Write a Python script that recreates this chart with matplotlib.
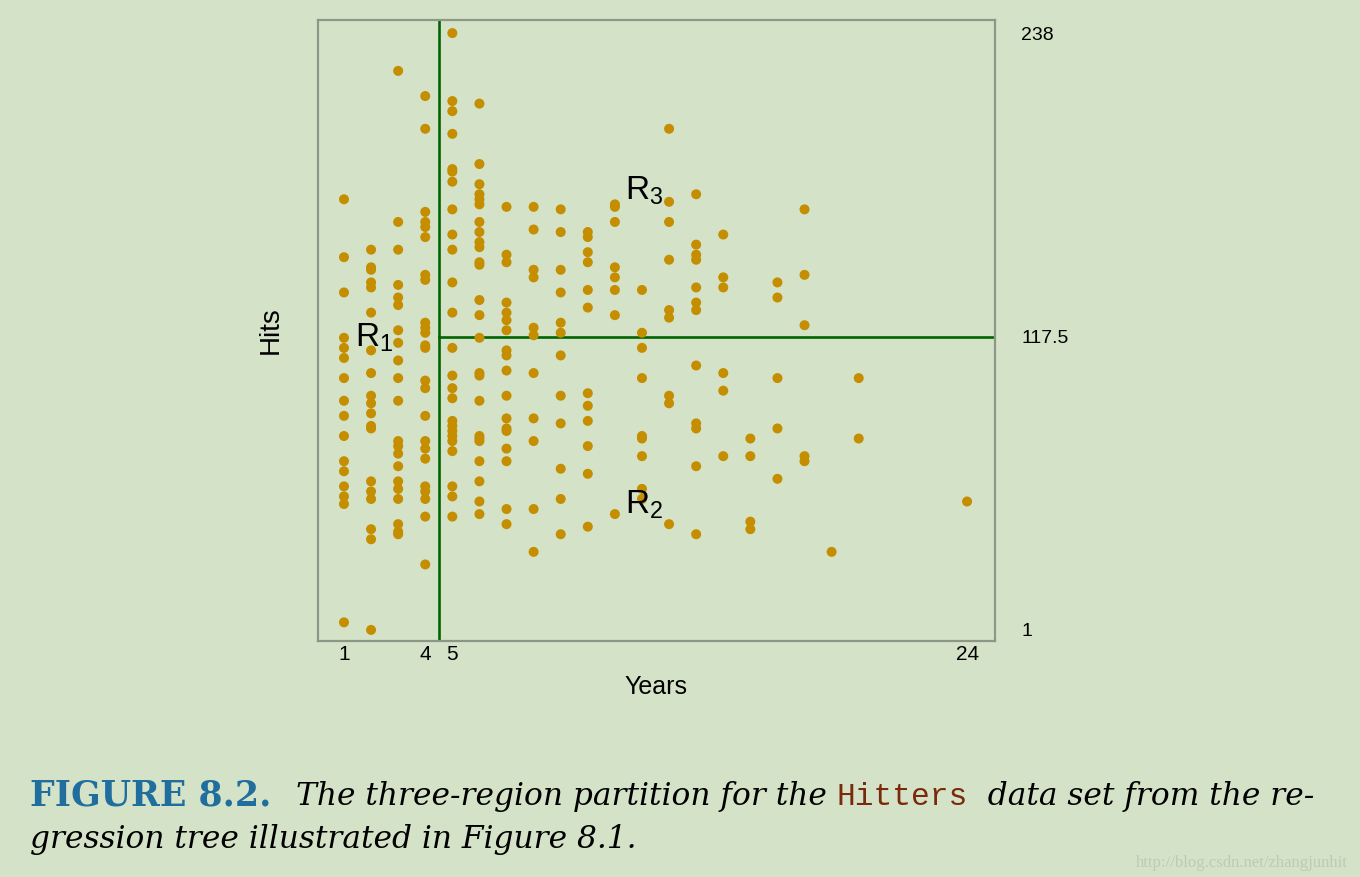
'''
Hitters: three-region partition of Years / Hits from the regression tree
'''

import numpy as np
import matplotlib.pyplot as plt

###############################################################################
## data
###############################################################################

years = [1, 2, 3, 4, 5, 6, 7, 8, 9, 10, 11, 12, 13, 14, 15, 16, 17, 18, 19, 20, 24]
hits = [
    [172, 149, 135, 117, 113, 109, 101, 92, 86, 78, 68, 64, 58, 54, 51, 4],
    [152, 145, 144, 139, 137, 127, 112, 103, 94, 91, 87, 82, 81, 60, 56, 53, 41, 37, 1],
    [223, 163, 152, 138, 133, 130, 120, 115, 108, 101, 92, 76, 74, 71, 66, 60, 57, 53, 43, 40, 39],
    [213, 200, 167, 163, 161, 157, 142, 140, 123, 121, 119, 114, 113, 100, 97, 86, 76, 73, 69,
     58, 56, 53, 46, 27],
    [238, 211, 207, 198, 184, 183, 179, 168, 158, 152, 139, 127, 113, 102, 97, 93, 84, 82, 80,
     78, 76, 72, 58, 54, 46],
    [210, 186, 178, 174, 172, 170, 163, 159, 155, 153, 147, 146, 132, 126, 117, 103, 102, 92,
     78, 77, 76, 68, 60, 52, 47],
    [169, 150, 147, 131, 127, 124, 120, 112, 110, 104, 94, 85, 81, 80, 73, 68, 49, 43],
    [169, 160, 144, 141, 121, 118, 103, 85, 76, 49, 32],
    [168, 159, 144, 135, 123, 119, 110, 94, 83, 65, 53, 39],
    [159, 157, 151, 147, 136, 129, 95, 90, 84, 74, 63, 42],
    [170, 169, 163, 145, 141, 136, 126, 47],
    [136, 119, 113, 101, 78, 77, 70, 57, 53],
    [200, 171, 163, 148, 128, 125, 94, 91, 43],
    [174, 154, 150, 148, 137, 131, 128, 106, 83, 81, 66, 39],
    [158, 141, 137, 103, 96, 70],
    [77, 70, 44, 41],
    [139, 133, 101, 81, 61],
    [168, 142, 122, 70, 68],
    [32],
    [101, 77],
    [52],
]

years_split = 4.5
hits_split = 117.5

xticks = [1, 4, 5, 24]
yticks = [1, 117.5, 238]
ytick_labels = ['1', '117.5', '238']

regions = ['$\\mathregular{R_1}$', '$\\mathregular{R_2}$', '$\\mathregular{R_3}$']
region_pos = [(1.4, 117), (11.37, 50.5), (11.37, 175.5)]

###############################################################################
## plot
###############################################################################

bg = '#D4E3C8'
sans = ['Liberation Sans', 'DejaVu Sans']

fig = plt.figure(figsize=(13.6, 8.77), dpi=100, facecolor=bg)
ax = fig.add_axes([0.2338, 0.2691, 0.4978, 0.7081], facecolor=bg)

x = np.concatenate([[yr] * len(h) for yr, h in zip(years, hits)])
y = np.concatenate(hits)
ax.scatter(x, y, s=52, color='#C48E00', edgecolors='none', zorder=3)

# partition lines
ax.axvline(years_split, color='#006400', lw=1.9, zorder=2)
ax.plot([years_split, 25.03], [hits_split, hits_split], color='#006400', lw=1.9, zorder=2)

for lab, (px, py) in zip(regions, region_pos):
    ax.text(px, py, lab, fontsize=24, family=sans, va='center', ha='left', zorder=4)

ax.set_xlim(0.04, 25.03)
ax.set_ylim(-3.4, 243.2)

for sp in ax.spines.values():
    sp.set_color('#8C9787')
    sp.set_linewidth(1.6)

ax.set_xticks(xticks)
ax.set_xticklabels([str(t) for t in xticks], family=sans, fontsize=15)
ax.tick_params(axis='x', length=0, pad=3)
ax.yaxis.tick_right()
ax.set_yticks(yticks)
ax.set_yticklabels(ytick_labels, family=sans, fontsize=14)
ax.tick_params(axis='y', length=0, pad=19)

ax.set_xlabel('Years', family=sans, fontsize=18, labelpad=8)
ax.yaxis.set_label_position('left')
ax.set_ylabel('Hits', family=sans, fontsize=20)
ax.yaxis.set_label_coords(-0.051, 0.5)

# caption, built piece by piece
ital = dict(family='DejaVu Serif', style='italic', color='black', fontsize=22.5)
line1 = [
    ('FIGURE 8.2.  ', dict(family='DejaVu Serif', weight='bold', color='#1F6E9E', fontsize=25)),
    ('The three-region partition for the ', ital),
    ('Hitters', dict(family='Liberation Mono', color='#7A2A0A', fontsize=22.5)),
    ('  data set from the re-', ital),
]
t = fig.text(30 / 1360, 72 / 877, line1[0][0], va='baseline', **line1[0][1])
for s, kw in line1[1:]:
    t = ax.annotate(s, xy=(1, 0), xycoords=t, va='bottom', annotation_clip=False, **kw)

fig.text(30 / 1360, 29 / 877, 'gression tree illustrated in Figure 8.1.', va='baseline', **ital)

fig.text(1348 / 1360, 14 / 877, 'http://blog.csdn.net/zhangjunhit', ha='right', va='center',
         family=['Liberation Serif'], fontsize=12, color='#BCCBB3')

fig.savefig('out.png', dpi=100, facecolor=bg)
